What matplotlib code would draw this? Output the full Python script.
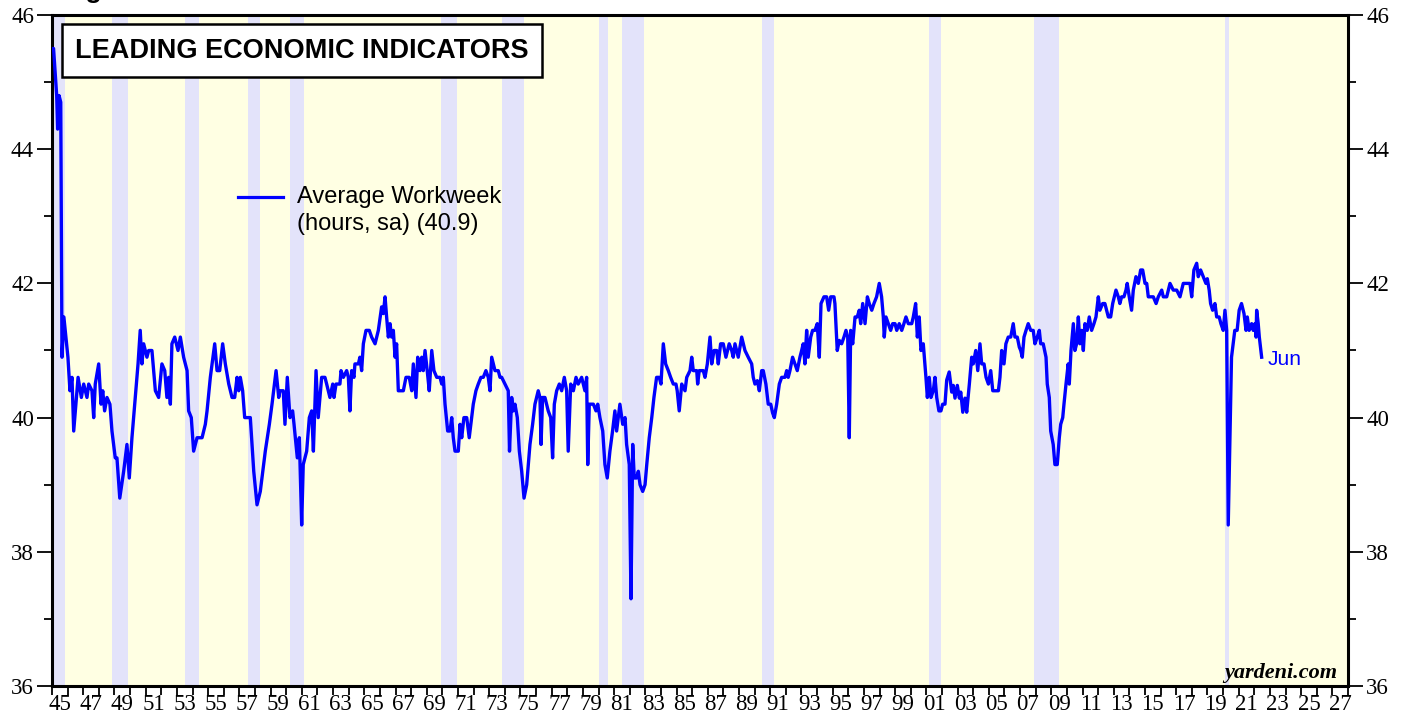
import matplotlib
matplotlib.use("Agg")
import matplotlib.pyplot as plt
from matplotlib.ticker import FixedLocator, FixedFormatter, MultipleLocator, NullFormatter

# ---------------- data ----------------
dates = [
    1945.00, 1945.10, 1945.30, 1945.36, 1945.45, 1945.56, 1945.64, 1945.76, 1946.02, 1946.15,
    1946.28, 1946.39, 1946.67, 1946.88, 1947.03, 1947.24, 1947.35, 1947.56, 1947.67, 1947.77,
    1947.99, 1948.14, 1948.25, 1948.37, 1948.52, 1948.71, 1948.84, 1949.05, 1949.16, 1949.34,
    1949.59, 1949.80, 1949.95, 1950.12, 1950.33, 1950.51, 1950.65, 1950.76, 1950.87, 1951.08,
    1951.19, 1951.40, 1951.62, 1951.83, 1952.04, 1952.22, 1952.36, 1952.47, 1952.58, 1952.68,
    1952.86, 1953.07, 1953.22, 1953.43, 1953.65, 1953.75, 1953.92, 1954.07, 1954.29, 1954.61,
    1954.82, 1954.93, 1955.14, 1955.42, 1955.57, 1955.74, 1955.93, 1956.10, 1956.32, 1956.53,
    1956.70, 1956.85, 1956.96, 1957.06, 1957.21, 1957.34, 1957.70, 1957.92, 1958.13, 1958.34,
    1958.66, 1958.92, 1959.09, 1959.35, 1959.52, 1959.60, 1959.81, 1959.92, 1960.07, 1960.24,
    1960.41, 1960.50, 1960.71, 1960.84, 1960.99, 1961.09, 1961.31, 1961.48, 1961.63, 1961.74,
    1961.91, 1962.05, 1962.27, 1962.48, 1962.59, 1962.80, 1962.98, 1963.06, 1963.19, 1963.44,
    1963.51, 1963.66, 1963.87, 1963.98, 1964.08, 1964.19, 1964.34, 1964.40, 1964.62, 1964.72,
    1964.83, 1964.94, 1965.11, 1965.32, 1965.47, 1965.69, 1965.90, 1966.11, 1966.22, 1966.33,
    1966.43, 1966.54, 1966.65, 1966.75, 1966.86, 1966.97, 1967.07, 1967.18, 1967.50, 1967.67,
    1967.88, 1968.04, 1968.14, 1968.31, 1968.42, 1968.57, 1968.68, 1968.78, 1968.89, 1969.03,
    1969.16, 1969.32, 1969.46, 1969.64, 1969.85, 1969.96, 1970.06, 1970.17, 1970.34, 1970.49,
    1970.60, 1970.70, 1970.81, 1971.02, 1971.13, 1971.24, 1971.38, 1971.56, 1971.72, 1971.88,
    1971.98, 1972.15, 1972.30, 1972.47, 1972.62, 1972.79, 1972.94, 1973.05, 1973.16, 1973.37,
    1973.58, 1973.69, 1973.80, 1974.01, 1974.22, 1974.30, 1974.44, 1974.54, 1974.65, 1974.80,
    1974.93, 1975.08, 1975.23, 1975.40, 1975.61, 1975.78, 1975.93, 1976.14, 1976.25, 1976.32,
    1976.42, 1976.57, 1976.78, 1976.94, 1977.06, 1977.17, 1977.32, 1977.49, 1977.64, 1977.81,
    1977.96, 1978.06, 1978.22, 1978.39, 1978.56, 1978.70, 1978.92, 1979.13, 1979.24, 1979.31,
    1979.41, 1979.67, 1979.84, 1979.95, 1980.09, 1980.27, 1980.41, 1980.56, 1980.73, 1980.90,
    1981.05, 1981.16, 1981.37, 1981.55, 1981.70, 1981.80, 1981.97, 1982.08, 1982.19, 1982.29,
    1982.44, 1982.55, 1982.66, 1982.83, 1982.98, 1983.09, 1983.25, 1983.41, 1983.55, 1983.72,
    1983.89, 1984.00, 1984.15, 1984.30, 1984.47, 1984.62, 1984.79, 1984.96, 1985.04, 1985.17,
    1985.33, 1985.54, 1985.65, 1985.86, 1985.97, 1986.07, 1986.29, 1986.35, 1986.45, 1986.71,
    1986.82, 1986.97, 1987.14, 1987.25, 1987.40, 1987.57, 1987.67, 1987.82, 1987.99, 1988.16,
    1988.37, 1988.53, 1988.63, 1988.74, 1988.95, 1989.06, 1989.17, 1989.38, 1989.59, 1989.81,
    1989.91, 1990.02, 1990.17, 1990.30, 1990.45, 1990.55, 1990.72, 1990.87, 1991.03, 1991.15,
    1991.26, 1991.41, 1991.58, 1991.73, 1991.94, 1992.05, 1992.15, 1992.26, 1992.43, 1992.58,
    1992.73, 1992.90, 1993.01, 1993.11, 1993.22, 1993.33, 1993.43, 1993.59, 1993.71, 1993.86,
    1994.01, 1994.14, 1994.25, 1994.44, 1994.61, 1994.74, 1994.87, 1995.08, 1995.14, 1995.29,
    1995.42, 1995.57, 1995.72, 1995.85, 1995.96, 1996.06, 1996.15, 1996.28, 1996.43, 1996.57,
    1996.70, 1996.79, 1996.92, 1997.07, 1997.22, 1997.34, 1997.50, 1997.64, 1997.81, 1997.98,
    1998.13, 1998.24, 1998.30, 1998.41, 1998.56, 1998.71, 1998.84, 1998.99, 1999.10, 1999.26,
    1999.42, 1999.56, 1999.69, 1999.84, 2000.06, 2000.16, 2000.31, 2000.42, 2000.54, 2000.65,
    2000.80, 2000.97, 2001.06, 2001.18, 2001.29, 2001.44, 2001.55, 2001.66, 2001.80, 2001.93,
    2002.04, 2002.19, 2002.30, 2002.46, 2002.62, 2002.72, 2002.83, 2002.98, 2003.11, 2003.20,
    2003.33, 2003.47, 2003.58, 2003.75, 2003.90, 2004.00, 2004.16, 2004.29, 2004.43, 2004.54,
    2004.69, 2004.82, 2004.97, 2005.12, 2005.25, 2005.61, 2005.71, 2005.82, 2005.97, 2006.09,
    2006.24, 2006.40, 2006.56, 2006.67, 2006.82, 2006.95, 2007.04, 2007.14, 2007.25, 2007.38,
    2007.52, 2007.68, 2007.84, 2007.95, 2008.10, 2008.23, 2008.32, 2008.48, 2008.66, 2008.74,
    2008.87, 2008.96, 2009.12, 2009.23, 2009.38, 2009.51, 2009.60, 2009.73, 2009.81, 2009.94,
    2010.08, 2010.15, 2010.26, 2010.41, 2010.51, 2010.62, 2010.73, 2010.83, 2010.94, 2011.05,
    2011.15, 2011.30, 2011.43, 2011.58, 2011.73, 2011.86, 2012.01, 2012.11, 2012.29, 2012.43,
    2012.54, 2012.65, 2012.80, 2012.93, 2013.14, 2013.29, 2013.39, 2013.50, 2013.65, 2013.78,
    2013.86, 2013.99, 2014.14, 2014.25, 2014.42, 2014.57, 2014.72, 2014.85, 2015.00, 2015.11,
    2015.21, 2015.53, 2015.71, 2015.85, 2016.07, 2016.17, 2016.39, 2016.60, 2016.81, 2017.03,
    2017.24, 2017.45, 2017.67, 2017.88, 2017.99, 2018.13, 2018.31, 2018.41, 2018.56, 2018.73,
    2018.90, 2018.99, 2019.11, 2019.20, 2019.33, 2019.48, 2019.59, 2019.75, 2019.86, 2020.01,
    2020.12, 2020.23, 2020.33, 2020.44, 2020.54, 2020.75, 2020.90, 2021.03, 2021.18, 2021.34,
    2021.47, 2021.55, 2021.67, 2021.83, 2021.93, 2022.04, 2022.11, 2022.15, 2022.25, 2022.32,
    2022.47,
]

hours = [
    45.5, 45.5, 44.8, 44.3, 44.8, 44.7, 40.9, 41.5, 40.9, 40.4,
    40.6, 39.8, 40.6, 40.3, 40.5, 40.3, 40.5, 40.4, 40.0, 40.5,
    40.8, 40.2, 40.4, 40.1, 40.3, 40.2, 39.8, 39.4, 39.4, 38.8,
    39.2, 39.6, 39.1, 39.7, 40.3, 40.8, 41.3, 40.8, 41.1, 40.9,
    41.0, 41.0, 40.4, 40.3, 40.8, 40.7, 40.3, 40.6, 40.2, 41.1,
    41.2, 41.0, 41.2, 40.9, 40.7, 40.1, 40.0, 39.5, 39.7, 39.7,
    39.9, 40.1, 40.6, 41.1, 40.7, 40.7, 41.1, 40.8, 40.5, 40.3,
    40.3, 40.6, 40.4, 40.6, 40.4, 40.0, 40.0, 39.2, 38.7, 38.9,
    39.5, 39.9, 40.2, 40.7, 40.3, 40.4, 40.4, 39.9, 40.6, 40.0,
    40.1, 39.9, 39.4, 39.7, 38.4, 39.3, 39.5, 40.0, 40.1, 39.5,
    40.7, 40.0, 40.6, 40.6, 40.5, 40.3, 40.5, 40.3, 40.5, 40.5,
    40.7, 40.6, 40.7, 40.6, 40.1, 40.7, 40.6, 40.8, 40.8, 40.9,
    40.7, 41.1, 41.3, 41.3, 41.2, 41.1, 41.3, 41.65, 41.55, 41.8,
    41.5, 41.2, 41.4, 41.2, 41.3, 40.9, 41.1, 40.4, 40.4, 40.6,
    40.6, 40.4, 40.8, 40.3, 40.9, 40.7, 40.9, 40.7, 41.0, 40.7,
    40.4, 41.0, 40.7, 40.6, 40.6, 40.5, 40.6, 40.2, 39.8, 39.8,
    40.0, 39.7, 39.5, 39.5, 39.9, 39.7, 40.0, 40.0, 39.7, 40.0,
    40.2, 40.4, 40.5, 40.6, 40.6, 40.7, 40.6, 40.4, 40.9, 40.7,
    40.7, 40.6, 40.6, 40.5, 40.4, 39.5, 40.3, 40.1, 40.2, 40.0,
    39.5, 39.2, 38.8, 39.0, 39.6, 39.9, 40.2, 40.4, 40.3, 39.6,
    40.3, 40.3, 40.1, 40.0, 39.4, 40.2, 40.4, 40.5, 40.4, 40.6,
    40.4, 39.5, 40.5, 40.4, 40.6, 40.5, 40.6, 40.4, 40.6, 39.3,
    40.2, 40.2, 40.1, 40.2, 40.0, 39.8, 39.3, 39.1, 39.5, 39.8,
    40.1, 39.8, 40.2, 39.9, 40.0, 39.6, 39.3, 37.3, 39.6, 39.1,
    39.1, 39.2, 39.0, 38.9, 39.0, 39.3, 39.7, 40.0, 40.3, 40.6,
    40.6, 40.5, 41.1, 40.8, 40.7, 40.6, 40.5, 40.5, 40.4, 40.1,
    40.5, 40.4, 40.6, 40.7, 40.9, 40.7, 40.7, 40.5, 40.7, 40.7,
    40.6, 40.8, 41.2, 40.8, 41.0, 41.0, 40.8, 41.1, 41.1, 40.9,
    41.1, 41.0, 40.9, 41.1, 40.9, 41.05, 41.2, 41.0, 40.9, 40.8,
    40.6, 40.5, 40.55, 40.4, 40.7, 40.7, 40.5, 40.2, 40.2, 40.07,
    40.0, 40.2, 40.5, 40.6, 40.6, 40.7, 40.6, 40.7, 40.9, 40.8,
    40.7, 40.9, 41.0, 41.1, 40.8, 41.3, 40.9, 41.2, 41.3, 41.3,
    41.4, 40.9, 41.7, 41.8, 41.8, 41.6, 41.8, 41.8, 41.7, 41.0,
    41.15, 41.1, 41.2, 41.3, 41.2, 39.7, 41.3, 41.1, 41.5, 41.5,
    41.6, 41.4, 41.7, 41.4, 41.8, 41.7, 41.6, 41.7, 41.8, 42.0,
    41.8, 41.5, 41.2, 41.5, 41.4, 41.3, 41.4, 41.4, 41.3, 41.4,
    41.3, 41.4, 41.5, 41.4, 41.4, 41.5, 41.7, 41.2, 41.5, 41.0,
    41.1, 40.6, 40.3, 40.6, 40.3, 40.4, 40.6, 40.3, 40.1, 40.1,
    40.2, 40.2, 40.56, 40.68, 40.38, 40.48, 40.29, 40.48, 40.29, 40.38,
    40.08, 40.29, 40.08, 40.5, 40.9, 40.8, 41.0, 40.7, 41.1, 40.8,
    40.8, 40.6, 40.5, 40.7, 40.4, 40.4, 40.6, 41.0, 40.8, 41.1,
    41.2, 41.2, 41.4, 41.2, 41.2, 41.05, 41.0, 40.9, 41.2, 41.3,
    41.4, 41.3, 41.3, 41.1, 41.2, 41.3, 41.1, 41.1, 40.9, 40.5,
    40.3, 39.8, 39.6, 39.3, 39.3, 39.7, 39.9, 40.0, 40.2, 40.5,
    40.8, 40.5, 41.0, 41.4, 41.0, 41.1, 41.5, 41.1, 41.3, 41.0,
    41.4, 41.3, 41.5, 41.3, 41.4, 41.5, 41.8, 41.6, 41.7, 41.7,
    41.6, 41.5, 41.5, 41.7, 41.9, 41.8, 41.7, 41.8, 41.8, 41.9,
    42.0, 41.8, 41.6, 41.9, 42.1, 42.0, 42.2, 42.2, 42.0, 42.0,
    41.8, 41.8, 41.7, 41.8, 41.9, 41.8, 41.8, 42.0, 41.9, 41.9,
    41.8, 42.0, 42.0, 42.0, 41.8, 42.2, 42.3, 42.1, 42.2, 42.1,
    42.0, 42.07, 41.9, 41.7, 41.6, 41.7, 41.5, 41.5, 41.4, 41.3,
    41.6, 41.3, 38.4, 39.7, 40.9, 41.3, 41.3, 41.6, 41.7, 41.55,
    41.3, 41.5, 41.3, 41.4, 41.3, 41.4, 41.2, 41.6, 41.4, 41.2,
    40.9,
]

# NBER recessions (decimal years)
rec_start = [1945.0, 1948.84, 1953.50, 1957.58, 1960.25, 1969.92, 1973.84, 1980.00, 1981.50, 1990.50, 2001.17, 2007.92, 2020.10]
rec_end   = [1945.83, 1949.84, 1954.42, 1958.33, 1961.17, 1970.92, 1975.25, 1980.58, 1982.92, 1991.25, 2001.92, 2009.50, 2020.35]

label_years = list(range(1945, 2028, 2))
x_tick_labels = [f"{y % 100:02d}" for y in label_years]
y_ticks = [36, 38, 40, 42, 44, 46]

series_label = "Average Workweek"
series_note = "(hours, sa) (40.9)"
title = "LEADING ECONOMIC INDICATORS"
last_label = "Jun"

# ---------------- styling ----------------
BG = "#FFFFE3"
REC = "#E3E3FA"
BLUE = "#0000FF"
SERIF = ["Liberation Serif", "DejaVu Serif"]
SANS = ["Liberation Sans", "DejaVu Sans"]

W, H = 1408, 721
fig = plt.figure(figsize=(W / 100, H / 100), dpi=100)
fig.patch.set_facecolor("white")
ax = fig.add_axes([52 / W, 35 / H, 1296 / W, 671 / H])
ax.set_facecolor(BG)

for s, e in zip(rec_start, rec_end):
    ax.axvspan(s, e, color=REC, lw=0, zorder=0.5)

ax.plot(dates, hours, color=BLUE, lw=2.4, zorder=3, solid_joinstyle="round")

ax.set_xlim(1945, 2028)
ax.set_ylim(36, 46)

# x axis: a tick every year, labels centred between ticks
ax.xaxis.set_major_locator(MultipleLocator(1))
ax.xaxis.set_major_formatter(NullFormatter())
ax.xaxis.set_minor_locator(FixedLocator([y + 0.5 for y in label_years]))
ax.xaxis.set_minor_formatter(FixedFormatter(x_tick_labels))
ax.tick_params(axis="x", which="major", direction="out", length=6.5, width=1.3, color="black")
ax.tick_params(axis="x", which="minor", length=0, labelsize=16.5, pad=6)

# y axis: both sides
ax.yaxis.set_major_locator(FixedLocator(y_ticks))
ax.yaxis.set_minor_locator(MultipleLocator(1))
ax.tick_params(axis="y", which="both", left=True, right=True, labelleft=True, labelright=True,
               direction="out", width=1.3)
ax.tick_params(axis="y", which="major", length=11, labelsize=16.5, pad=2)
ax.tick_params(axis="y", which="minor", length=6)

for t in ax.yaxis.get_major_ticks():
    t.label1.set_fontfamily(SERIF)
    t.label2.set_fontfamily(SERIF)
for t in ax.xaxis.get_minor_ticks():
    t.label1.set_fontfamily(SERIF)

for sp in ax.spines.values():
    sp.set_linewidth(2.2)
    sp.set_color("black")

# title box
ax.text(0.0178, 0.936, title, transform=ax.transAxes, fontsize=19.5, fontweight="bold",
        family=SANS, va="baseline", ha="left", zorder=5,
        bbox=dict(boxstyle="square,pad=0.5", facecolor="white", edgecolor="black", linewidth=1.8))

# legend (manual)
ax.plot([0.1435, 0.1782], [0.7288, 0.7288], transform=ax.transAxes, color=BLUE, lw=2.3, zorder=5)
ax.text(0.189, 0.7288, series_label, transform=ax.transAxes, fontsize=17, family=SANS,
        va="center", ha="left", zorder=5)
ax.text(0.189, 0.6885, series_note, transform=ax.transAxes, fontsize=17, family=SANS,
        va="center", ha="left", zorder=5)

# last value label
ax.annotate(last_label, xy=(dates[-1], hours[-1]), xytext=(6, -2), textcoords="offset pixels",
            color=BLUE, fontsize=15, family=SANS, va="center", ha="left", zorder=5)

# source
ax.text(0.9915, 0.012, "yardeni.com", transform=ax.transAxes, fontsize=16, fontweight="bold",
        fontstyle="italic", family=SERIF, va="baseline", ha="right", zorder=5)

# clipped figure heading at the very top
fig.text(62 / W, 1 + 2 / H, "Figure", fontsize=19, fontweight="bold", family=SANS,
         va="baseline", ha="left")

fig.savefig("out.png", dpi=100, facecolor="white")
